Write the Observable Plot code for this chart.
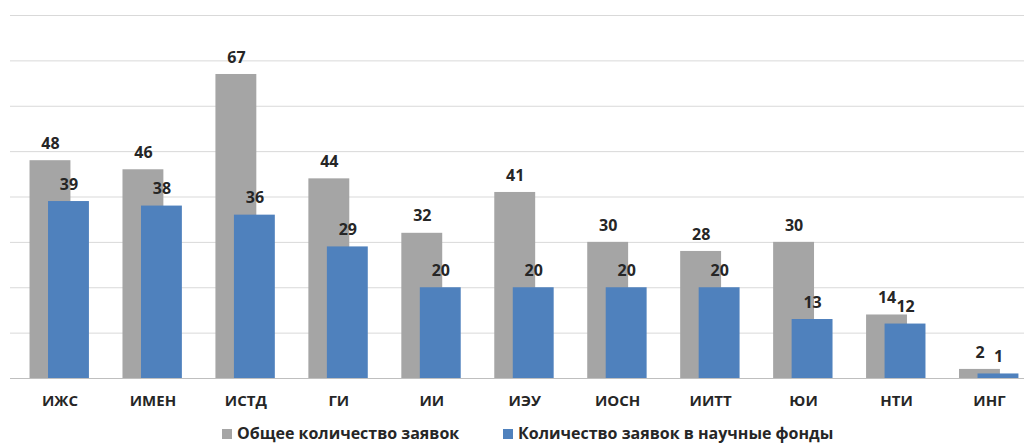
<!DOCTYPE html>
<html>
<head>
<meta charset="utf-8">
<script src="https://cdn.jsdelivr.net/npm/d3@7"></script>
<script src="https://cdn.jsdelivr.net/npm/@observablehq/plot@0.6"></script>
<style>
  html, body { margin: 0; padding: 0; background: #fff; }
  #chart { width: 1024px; }
  .legend { position: relative; height: 30px; font-family: "Open Sans", sans-serif; font-weight: 700; font-size: 16px; color: #262626; }
  .legend .item { position: absolute; top: 4px; line-height: 22px; white-space: nowrap; }
  .legend .sw { display: inline-block; width: 10px; height: 10px; margin-right: 5px; vertical-align: 0px; }
</style>
</head>
<body>
<div id="chart"></div>
<script>
const categories = ["ИЖС", "ИМЕН", "ИСТД", "ГИ", "ИИ", "ИЭУ", "ИОСН", "ИИТТ", "ЮИ", "НТИ", "ИНГ"];
const totalApplications = [48, 46, 67, 44, 32, 41, 30, 28, 30, 14, 2];
const fundApplications = [39, 38, 36, 29, 20, 20, 20, 20, 13, 12, 1];
const yTicks = [0, 10, 20, 30, 40, 50, 60, 70, 80];
const seriesNames = ["Общее количество заявок", "Количество заявок в научные фонды"];
const seriesColors = ["#A5A5A5", "#4F81BD"];

const data = categories.map((c, i) => ({cat: c, total: totalApplications[i], fund: fundApplications[i]}));

const font = "Open Sans, sans-serif";
const chart = Plot.plot({
  width: 1024,
  height: 418,
  marginLeft: 10,
  marginRight: 0,
  marginTop: 15,
  marginBottom: 40,
  style: {fontFamily: font, background: "#fff"},
  x: {type: "band", domain: categories, range: [13, 13 + 11 * 92.95], paddingInner: 0.56, paddingOuter: 0.28, round: false},
  y: {domain: [0, 80]},
  marks: [
    Plot.ruleY(yTicks.filter(d => d > 0), {stroke: "#D9D9D9", strokeWidth: 1}),
    Plot.barY(data, {x: "cat", y: "total", fill: seriesColors[0], dx: -9.5}),
    Plot.barY(data, {x: "cat", y: "fund", fill: seriesColors[1], dx: 9}),
    Plot.ruleY([0], {stroke: "#BFBFBF", strokeWidth: 1}),
    Plot.text(data, {x: "cat", y: "total", text: d => String(d.total), dx: -9.5, dy: -17, fontSize: 16, fontWeight: 700, fill: "#262626"}),
    Plot.text(data, {x: "cat", y: "fund", text: d => String(d.fund), dx: 9, dy: -17, fontSize: 16, fontWeight: 700, fill: "#262626"}),
    Plot.axisX({tickSize: 0, tickPadding: 17, fontSize: 15, fontWeight: 700, fill: "#262626", label: null}),
    Plot.axisY({ticks: [], label: null})
  ]
});
document.getElementById("chart").appendChild(chart);

const legend = document.createElement("div");
legend.className = "legend";
const lefts = [222, 503];
seriesNames.forEach((name, i) => {
  const item = document.createElement("div");
  item.className = "item";
  item.style.left = lefts[i] + "px";
  const sw = document.createElement("span");
  sw.className = "sw";
  sw.style.background = seriesColors[i];
  item.appendChild(sw);
  item.appendChild(document.createTextNode(name));
  legend.appendChild(item);
});
document.getElementById("chart").appendChild(legend);
</script>
</body>
</html>
